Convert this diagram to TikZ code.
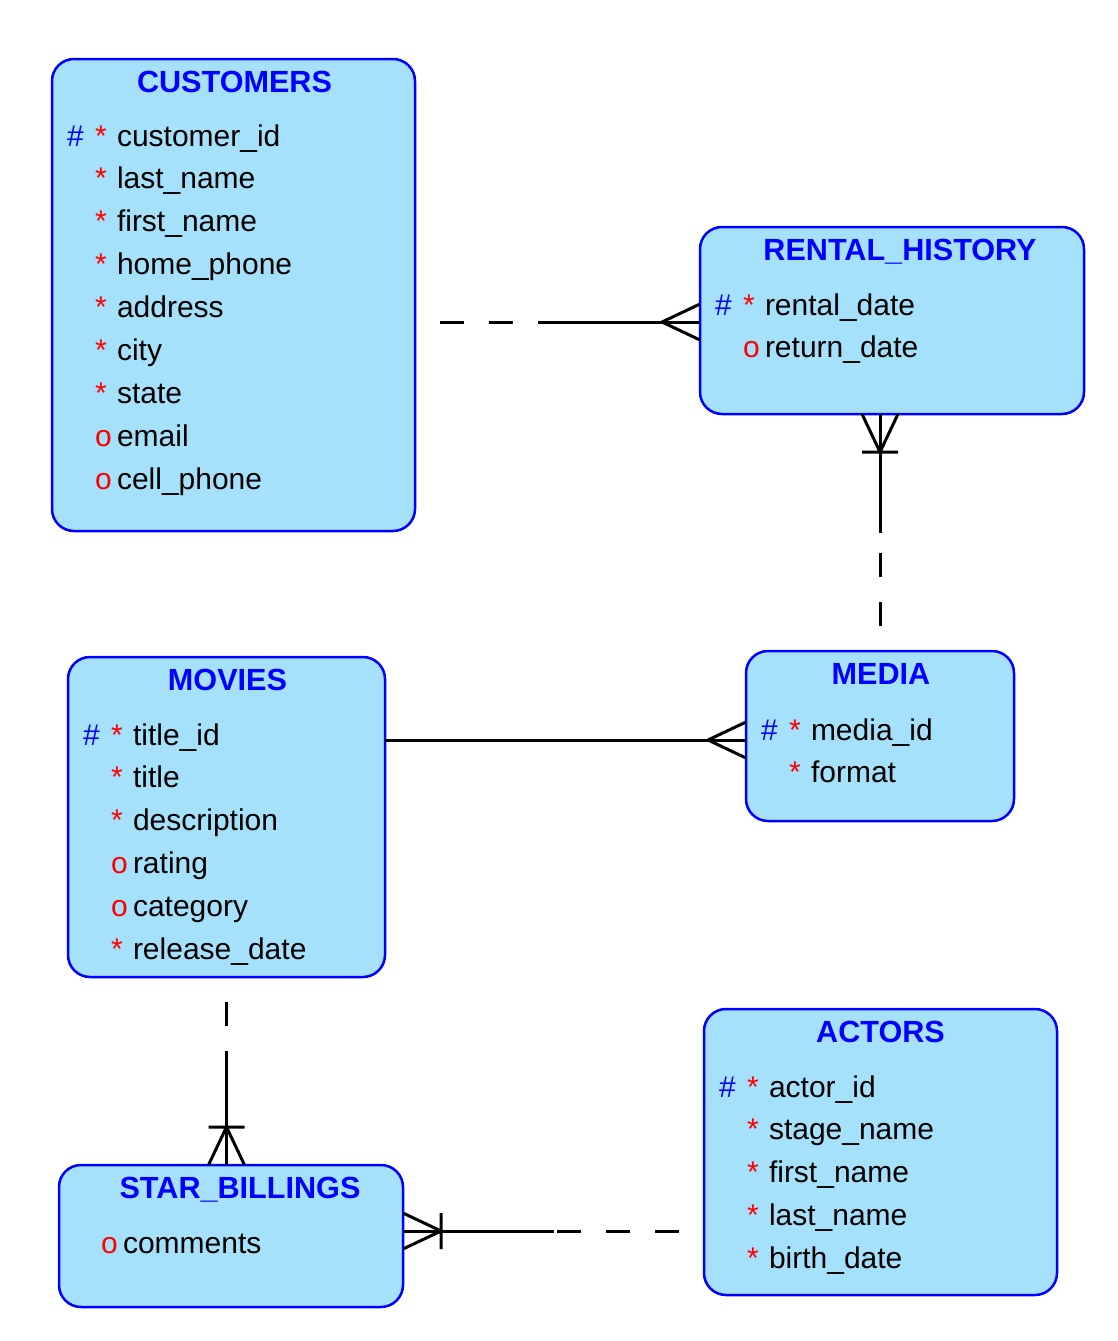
\documentclass[tikz,border=0pt]{standalone}
\usepackage{fontspec}
\setmainfont{Liberation Sans}
\usetikzlibrary{positioning,calc}
\definecolor{entfill}{HTML}{A6E1FC}
\definecolor{entblue}{HTML}{0000FF}
\definecolor{optred}{HTML}{FF0000}
\newcommand\keymark{\textcolor{entblue}{\#}}
\newcommand\reqmark{\textcolor{optred}{*}}
\newcommand\optmark{\textcolor{optred}{o}}
\newcommand\attrrow[3]{\makebox[28pt][l]{#1}\makebox[22pt][l]{#2}#3}
\tikzset{
  entity/.style={rectangle,rounded corners=22pt,draw=entblue,line width=2.5pt,
    fill=entfill,anchor=north west,inner sep=0pt,outer sep=0pt},
  etitle/.style={font=\fontsize{30.6}{36}\selectfont\bfseries,text=entblue,
    anchor=base,inner sep=0pt},
  attr/.style={font=\fontsize{30}{36}\selectfont,text=black,anchor=north west,
    inner sep=0pt,outer sep=0pt,text height=22pt,text depth=8pt},
  attrbelow/.style={attr,below=of #1,anchor=north west},
  relline/.style={line width=3pt,color=black},
  optline/.style={relline,dash pattern=on 24pt off 25pt,dash phase=24pt},
  crowmany/.pic={\draw[relline] (-38,0) -- (0,18) (-38,0) -- (0,-18);},
  crowonemany/.pic={\draw[relline] (-38,0) -- (0,18) (-38,0) -- (0,-18)
    (-38,-18) -- (-38,18);},
}

\begin{document}
\begin{tikzpicture}[x=1pt,y=-1pt,node distance=12.9pt]
  \useasboundingbox (0,0) rectangle (1118,1341);

  % entities
  \node[entity,minimum width=363pt,minimum height=472pt] (cust) at (52,59) {};
  \node[entity,minimum width=384pt,minimum height=187pt] (rent) at (700,227) {};
  \node[entity,minimum width=268pt,minimum height=170pt] (media) at (746,651) {};
  \node[entity,minimum width=317pt,minimum height=320pt] (movies) at (68,657) {};
  \node[entity,minimum width=353pt,minimum height=286pt] (actors) at (704,1009) {};
  \node[entity,minimum width=344pt,minimum height=142pt] (star) at (59,1165) {};

  % CUSTOMERS
  \node[etitle] (cust-t) at ($(cust.north)+(1,33)$) {CUSTOMERS};
  \node[attr] (cust-1) at ($(cust.north west)+(15,65)$) {\attrrow{\keymark}{\reqmark}{customer\_id}};
  \node[attrbelow=cust-1.south west] (cust-2) {\attrrow{}{\reqmark}{last\_name}};
  \node[attrbelow=cust-2.south west] (cust-3) {\attrrow{}{\reqmark}{first\_name}};
  \node[attrbelow=cust-3.south west] (cust-4) {\attrrow{}{\reqmark}{home\_phone}};
  \node[attrbelow=cust-4.south west] (cust-5) {\attrrow{}{\reqmark}{address}};
  \node[attrbelow=cust-5.south west] (cust-6) {\attrrow{}{\reqmark}{city}};
  \node[attrbelow=cust-6.south west] (cust-7) {\attrrow{}{\reqmark}{state}};
  \node[attrbelow=cust-7.south west] (cust-8) {\attrrow{}{\optmark}{email}};
  \node[attrbelow=cust-8.south west] (cust-9) {\attrrow{}{\optmark}{cell\_phone}};

  % RENTAL_HISTORY
  \node[etitle] (rent-t) at ($(rent.north)+(8,33)$) {RENTAL\_HISTORY};
  \node[attr] (rent-1) at ($(rent.north west)+(15,66)$) {\attrrow{\keymark}{\reqmark}{rental\_date}};
  \node[attrbelow=rent-1.south west] (rent-2) {\attrrow{}{\optmark}{return\_date}};

  % MEDIA
  \node[etitle] (media-t) at ($(media.north)+(1,33)$) {MEDIA};
  \node[attr] (media-1) at ($(media.north west)+(15,67)$) {\attrrow{\keymark}{\reqmark}{media\_id}};
  \node[attrbelow=media-1.south west] (media-2) {\attrrow{}{\reqmark}{format}};

  % MOVIES
  \node[etitle] (movies-t) at ($(movies.north)+(1,33)$) {MOVIES};
  \node[attr] (movies-1) at ($(movies.north west)+(15,66)$) {\attrrow{\keymark}{\reqmark}{title\_id}};
  \node[attrbelow=movies-1.south west] (movies-2) {\attrrow{}{\reqmark}{title}};
  \node[attrbelow=movies-2.south west] (movies-3) {\attrrow{}{\reqmark}{description}};
  \node[attrbelow=movies-3.south west] (movies-4) {\attrrow{}{\optmark}{rating}};
  \node[attrbelow=movies-4.south west] (movies-5) {\attrrow{}{\optmark}{category}};
  \node[attrbelow=movies-5.south west] (movies-6) {\attrrow{}{\reqmark}{release\_date}};

  % ACTORS
  \node[etitle] (actors-t) at ($(actors.north)+(0,33)$) {ACTORS};
  \node[attr] (actors-1) at ($(actors.north west)+(15,66)$) {\attrrow{\keymark}{\reqmark}{actor\_id}};
  \node[attrbelow=actors-1.south west] (actors-2) {\attrrow{}{\reqmark}{stage\_name}};
  \node[attrbelow=actors-2.south west] (actors-3) {\attrrow{}{\reqmark}{first\_name}};
  \node[attrbelow=actors-3.south west] (actors-4) {\attrrow{}{\reqmark}{last\_name}};
  \node[attrbelow=actors-4.south west] (actors-5) {\attrrow{}{\reqmark}{birth\_date}};

  % STAR_BILLINGS
  \node[etitle] (star-t) at ($(star.north)+(9,33)$) {STAR\_BILLINGS};
  \node[attr] (star-1) at ($(star.north west)+(14,66)$) {\attrrow{}{\optmark}{comments}};

  % relationships
  \coordinate (cr-b) at ($(rent.west)+(0,1.5)$);
  \coordinate (cr-a) at (cust.east |- cr-b);
  \coordinate (cr-m) at ($(cr-a)!.5!(cr-b)$);
  \draw[optline] (cr-a) -- (cr-m);
  \draw[relline] (cr-m) -- (cr-b);
  \pic at (cr-b) {crowmany};

  \coordinate (mr-b) at (rent.south -| media.north);
  \coordinate (mr-m) at ($(media.north)!.5!(mr-b)$);
  \draw[optline] (media.north) -- (mr-m);
  \draw[relline] (mr-m) -- (mr-b);
  \pic[rotate=90] at (mr-b) {crowonemany};

  \coordinate (mm-b) at ($(media.west)+(0,4)$);
  \coordinate (mm-a) at (movies.east |- mm-b);
  \draw[relline] (mm-a) -- (mm-b);
  \pic at (mm-b) {crowmany};

  \coordinate (ms-b) at (star.north -| movies.south);
  \coordinate (ms-m) at ($(movies.south)!.5!(ms-b)$);
  \draw[optline] (movies.south) -- (ms-m);
  \draw[relline] (ms-m) -- (ms-b);
  \pic[rotate=-90] at (ms-b) {crowonemany};

  \coordinate (as-b) at ($(star.east)+(0,-5)$);
  \coordinate (as-a) at (actors.west |- as-b);
  \coordinate (as-m) at ($(as-a)!.5!(as-b)$);
  \draw[optline] (as-a) -- (as-m);
  \draw[relline] (as-m) -- (as-b);
  \pic[rotate=180] at (as-b) {crowonemany};
\end{tikzpicture}
\end{document}
